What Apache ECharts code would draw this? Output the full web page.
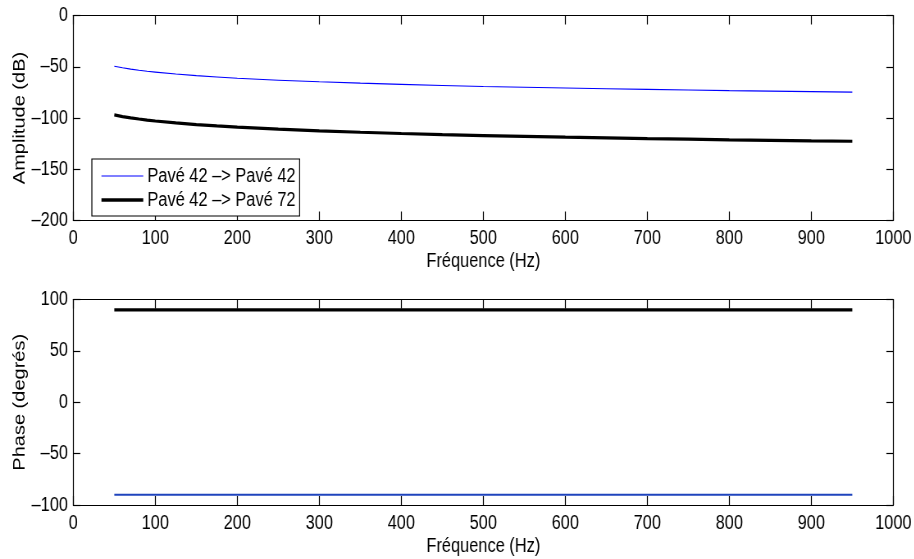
<!DOCTYPE html>
<html>
<head>
<meta charset="utf-8">
<script src="https://cdn.jsdelivr.net/npm/echarts@6/dist/echarts.min.js"></script>
<style>
html,body{margin:0;padding:0;background:#fff;overflow:hidden;width:914px;height:559px;}
#c{width:1115px;height:559px;transform:scaleX(0.82);transform-origin:0 0;}
</style>
</head>
<body>
<div id="c"></div>
<script>
// Data
const freq = [50,60,70,80,90,100,125,150,175,200,250,300,350,400,450,500,550,600,650,700,750,800,850,900,950];
const ampl42 = [-49.5,-51,-52.3,-53.4,-54.4,-55.2,-57.1,-58.7,-60,-61.2,-63.1,-64.7,-66,-67.2,-68.3,-69.2,-70,-70.8,-71.5,-72.1,-72.7,-73.3,-73.8,-74.3,-74.8];
const ampl72 = [-97,-98.6,-99.9,-101,-102,-102.9,-104.8,-106.4,-107.7,-108.9,-110.9,-112.5,-113.9,-115.1,-116.2,-117.1,-117.9,-118.7,-119.4,-120.1,-120.7,-121.3,-121.8,-122.3,-122.7];
const phase42 = freq.map(() => -90);
const phase72 = freq.map(() => 90);
const seriesNames = ['Pavé 42 –> Pavé 42', 'Pavé 42 –> Pavé 72'];
const xLabel = 'Fréquence (Hz)';
const yLabelTop = 'Amplitude (dB)';
const yLabelBottom = 'Phase (degrés)';

const FONT = "'Liberation Sans',Arial,Helvetica,sans-serif";
const fmt = v => String(v).replace('-', '\u2013');

function pairs(xs, ys){ return xs.map((x,i)=>[x, ys[i]]); }

function xAx(grid, pos, labels){
  const a = {
    type:'value', gridIndex:grid, position:pos, min:0, max:1000, interval:100,
    axisLine:{show:true, onZero:false, lineStyle:{color:'#000', width:1.2}},
    axisTick:{show:true, inside:true, length:9, lineStyle:{color:'#000', width:1.2}},
    axisLabel:{show:labels, margin:8, color:'#000', fontFamily:FONT, fontSize:20, formatter:fmt},
    splitLine:{show:false}
  };
  if (labels){
    a.name = xLabel; a.nameLocation='middle'; a.nameGap=31; a.nameMoveOverlap=false;
    a.nameTextStyle={color:'#000', fontFamily:FONT, fontSize:20};
  }
  return a;
}
function yAx(grid, pos, labels, mn, mx, name){
  const a = {
    type:'value', gridIndex:grid, position:pos, min:mn, max:mx, interval:50,
    axisLine:{show:true, onZero:false, lineStyle:{color:'#000', width:1.2}},
    axisTick:{show:true, inside:true, length:8.5, lineStyle:{color:'#000', width:1.2}},
    axisLabel:{show:labels, margin:6.5, color:'#000', fontFamily:FONT, fontSize:20, formatter:fmt},
    splitLine:{show:false}
  };
  if (labels){
    a.name = name; a.nameLocation='middle'; a.nameGap=55; a.nameRotate=90; a.nameMoveOverlap=false;
    a.nameTextStyle={color:'#000', fontFamily:FONT, fontSize:20};
  }
  return a;
}

const chart = echarts.init(document.getElementById('c'), null, {renderer:'canvas', width:1115, height:559});
chart.setOption({
  animation:false,
  backgroundColor:'#fff',
  grid:[
    {left:89.4, top:15.5, width:1000, height:205, containLabel:false, outerBoundsMode:'none'},
    {left:89.4, top:299.6, width:1000, height:205.4, containLabel:false, outerBoundsMode:'none'}
  ],
  xAxis:[ xAx(0,'bottom',true), xAx(0,'top',false), xAx(1,'bottom',true), xAx(1,'top',false) ],
  yAxis:[ yAx(0,'left',true,-200,0,yLabelTop), yAx(0,'right',false,-200,0),
          yAx(1,'left',true,-100,100,yLabelBottom), yAx(1,'right',false,-100,100) ],
  legend:{
    data:[
      {name:seriesNames[0], lineStyle:{color:'#0000ff', width:1.1}, itemStyle:{opacity:0}},
      {name:seriesNames[1], lineStyle:{color:'#000', width:3.4}, itemStyle:{opacity:0}}
    ],
    orient:'vertical', left:112, top:159,
    itemWidth:51, itemHeight:14, itemGap:4, padding:[7,5,6,10],
    borderColor:'#000', borderWidth:1.2, backgroundColor:'#fff', borderRadius:0,
    itemStyle:{opacity:0},
    textStyle:{color:'#000', fontFamily:FONT, fontSize:20},
    selectedMode:false
  },
  series:[
    {name:seriesNames[0], type:'line', xAxisIndex:0, yAxisIndex:0, data:pairs(freq, ampl42),
     showSymbol:false, symbol:'none', lineStyle:{color:'#0000ff', width:1.1}, itemStyle:{color:'#0000ff'}},
    {name:seriesNames[1], type:'line', xAxisIndex:0, yAxisIndex:0, data:pairs(freq, ampl72),
     showSymbol:false, symbol:'none', lineStyle:{color:'#000', width:3.2}, itemStyle:{color:'#000'}},
    {name:'phase42', type:'line', xAxisIndex:2, yAxisIndex:2, data:pairs(freq, phase42),
     showSymbol:false, symbol:'none', lineStyle:{color:'#1f44bd', width:1.8}, itemStyle:{color:'#1f44bd'}},
    {name:'phase72', type:'line', xAxisIndex:2, yAxisIndex:2, data:pairs(freq, phase72),
     showSymbol:false, symbol:'none', lineStyle:{color:'#000', width:3.2}, itemStyle:{color:'#000'}}
  ]
});
</script>
</body>
</html>
